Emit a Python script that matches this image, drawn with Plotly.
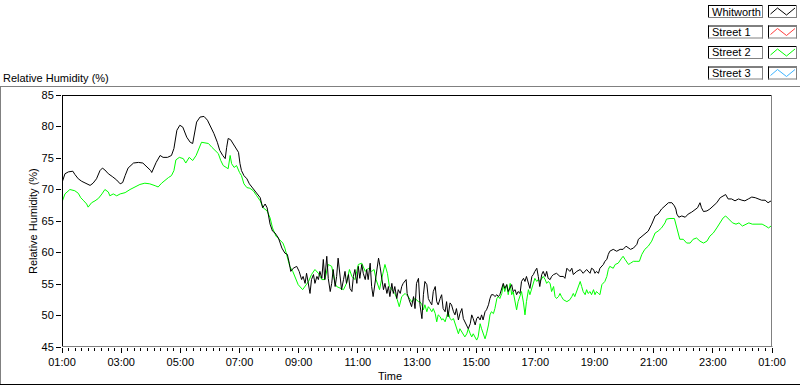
import pandas as pd
import plotly.graph_objects as go

# ---------------- data (minutes after 01:00, relative humidity %) ----------------
whitworth_min = [1, 6, 13, 22, 26, 33, 40, 47, 57, 63, 70, 77, 82, 87, 94, 103, 111, 118, 123, 128,
                 134, 145, 155, 164, 170, 176, 180, 182, 185, 191, 199, 205, 214, 222, 227, 233, 239, 245,
                 253, 260, 265, 270, 273, 280, 288, 295, 302, 308, 315, 320, 326, 331, 334, 337, 342, 347,
                 353, 358, 361, 364, 369, 375, 380, 385, 391, 396, 402, 407, 412, 416, 422, 427, 432, 439,
                 446, 452, 457, 461, 464, 469, 476, 481, 486, 489, 493, 496, 500, 503, 506, 510, 513, 517,
                 520, 523, 527, 530, 533, 537, 540, 544, 547, 550, 554, 557, 560, 564, 567, 571, 574, 577,
                 581, 584, 588, 591, 594, 598, 601, 604, 608, 611, 615, 618, 621, 625, 628, 631, 635, 638,
                 642, 645, 648, 652, 655, 659, 662, 665, 669, 672, 675, 679, 682, 686, 689, 692, 698, 700,
                 704, 709, 713, 716, 719, 723, 726, 730, 733, 736, 740, 743, 746, 750, 753, 757, 760, 763,
                 767, 770, 773, 777, 780, 783, 787, 790, 794, 797, 800, 804, 807, 811, 814, 817, 821, 824,
                 828, 831, 834, 838, 841, 844, 848, 851, 854, 858, 861, 865, 868, 871, 875, 878, 882, 885,
                 888, 892, 895, 898, 902, 905, 909, 912, 915, 919, 922, 925, 929, 932, 936, 939, 942, 946,
                 949, 953, 956, 959, 963, 966, 969, 973, 976, 980, 983, 986, 990, 993, 997, 1003, 1010, 1017,
                 1020, 1024, 1027, 1030, 1034, 1037, 1044, 1051, 1057, 1064, 1071, 1074, 1078, 1081, 1084,
                 1088, 1091, 1095, 1098, 1101, 1105, 1108, 1111, 1118, 1125, 1132, 1138, 1144, 1149, 1153,
                 1159, 1166, 1169, 1176, 1182, 1189, 1196, 1203, 1209, 1216, 1223, 1230, 1237, 1242, 1245,
                 1247, 1251, 1257, 1264, 1270, 1277, 1284, 1289, 1294, 1297, 1301, 1308, 1314, 1321, 1328,
                 1335, 1341, 1346, 1351, 1358, 1365, 1372, 1379, 1385, 1392, 1399, 1406, 1413, 1419, 1426,
                 1432, 1436, 1439]
whitworth_rh = [71.3, 72.5, 72.8, 72.9, 72.4, 71.7, 71.3, 71.0, 70.65, 71.0, 71.7, 73.0, 73.4, 73.1, 72.5, 72.0, 71.5, 70.9, 71.1, 72.2,
                73.4, 74.2, 74.3, 74.2, 73.8, 73.4, 73.0, 72.7, 73.3, 74.3, 75.4, 75.1, 75.1, 75.4, 76.5, 79.4, 80.2, 79.9,
                78.3, 77.5, 77.3, 79.4, 80.7, 81.5, 81.6, 81.0, 79.9, 78.9, 77.5, 76.2, 75.4, 74.9, 76.7, 78.1, 77.9, 77.3,
                76.5, 75.9, 74.1, 73.0, 72.2, 71.7, 70.9, 70.4, 69.8, 69.4, 68.7, 67.1, 67.7, 67.1, 64.5, 63.4, 63.1, 62.3,
                60.7, 59.9, 59.7, 58.3, 57.0, 57.5, 57.8, 57.0, 55.7, 56.2, 55.1, 56.7, 54.6, 53.5, 55.7, 56.5, 55.1, 56.2,
                55.7, 57.0, 55.9, 58.9, 55.7, 59.4, 55.9, 53.8, 55.1, 57.3, 54.6, 56.2, 59.1, 56.7, 54.1, 55.7, 57.0, 55.1,
                56.5, 54.3, 53.8, 56.2, 57.3, 55.1, 57.8, 55.9, 58.1, 56.7, 55.7, 57.3, 55.7, 58.3, 54.6, 53.0, 55.1, 56.7,
                59.1, 57.8, 55.9, 54.1, 55.1, 53.5, 54.6, 53.0, 55.1, 53.5, 54.6, 52.7, 54.1, 53.5, 54.6, 55.1, 55.7, 53.5,
                52.5, 51.4, 53.0, 51.1, 55.1, 55.9, 51.7, 49.5, 53.3, 55.4, 54.9, 52.7, 52.2, 51.7, 53.8, 54.6, 52.2, 51.7,
                52.7, 53.3, 51.1, 50.6, 52.2, 49.8, 52.0, 51.7, 50.6, 50.1, 51.1, 49.3, 50.3, 51.1, 49.5, 49.0, 48.5, 47.9,
                48.7, 50.1, 49.5, 48.5, 49.5, 49.8, 49.3, 50.1, 49.3, 50.6, 50.9, 51.7, 52.7, 53.3, 53.3, 53.0, 53.3, 53.0,
                53.3, 54.6, 55.1, 54.3, 54.9, 53.8, 54.6, 54.9, 53.8, 54.1, 53.3, 53.8, 53.5, 55.4, 55.9, 55.4, 56.2, 55.1,
                54.3, 56.2, 56.5, 57.0, 57.5, 56.2, 54.6, 56.5, 57.0, 56.2, 57.0, 55.9, 55.7, 56.2, 56.5, 56.7, 56.2, 56.2,
                55.9, 57.5, 57.3, 57.0, 57.5, 56.5, 57.0, 57.3, 56.7, 57.3, 56.7, 57.5, 57.3, 56.7, 57.0,
                56.7, 57.5, 57.8, 58.1, 58.6, 58.9, 59.7, 60.2, 60.5, 60.2, 60.5, 60.5, 61.0, 60.7, 60.5,
                60.7, 61.3, 62.1, 62.6, 62.9, 63.4, 64.5, 65.8, 66.1, 66.9, 67.4, 67.9, 67.9, 67.4, 66.9,
                66.1, 65.6, 65.8, 65.6, 66.1, 66.4, 66.9, 67.1, 67.9, 67.1, 66.5, 66.6, 66.9, 67.4, 67.9,
                68.7, 69.0, 69.2, 68.5, 68.5, 68.2, 68.5, 68.3, 68.2, 68.5, 68.8, 68.7, 68.5, 68.3, 68.3,
                67.9, 68.1, 68.2]

street2_min = [1, 6, 16, 26, 33, 38, 43, 50, 53, 60, 67, 74, 81, 87, 94, 97, 104, 111, 118, 128,
               138, 148, 158, 168, 178, 189, 195, 202, 209, 216, 222, 227, 231, 238, 246, 251, 258, 265,
               272, 278, 283, 290, 297, 304, 310, 317, 322, 327, 333, 337, 341, 344, 349, 354, 360, 364,
               369, 375, 381, 388, 395, 402, 408, 416, 422, 427, 434, 441, 448, 452, 457, 462, 468, 473,
               479, 488, 493, 500, 506, 513, 520, 527, 533, 540, 547, 550, 554, 557, 564, 571, 577, 583,
               588, 594, 601, 608, 615, 621, 628, 633, 637, 644, 648, 655, 660, 664, 669, 675, 680, 684,
               689, 696, 702, 709, 716, 723, 726, 730, 733, 736, 740, 743, 746, 750, 753, 757, 760, 763,
               767, 770, 773, 777, 780, 783, 787, 790, 794, 797, 800, 804, 807, 811, 814, 817, 821, 824,
               828, 831, 834, 838, 841, 844, 848, 851, 854, 858, 861, 865, 868, 871, 875, 878, 882, 885,
               888, 892, 895, 898, 902, 905, 909, 912, 915, 919, 922, 925, 929, 932, 936, 939, 942, 946,
               949, 953, 956, 959, 963, 966, 969, 973, 976, 980, 983, 986, 990, 993, 997, 1000, 1003, 1007,
               1010, 1013, 1017, 1024, 1030, 1034, 1037, 1040, 1044, 1047, 1051, 1054, 1057, 1061, 1064,
               1067, 1071, 1074, 1078, 1081, 1084, 1088, 1091, 1095, 1098, 1101, 1105, 1108, 1111, 1118,
               1122, 1128, 1135, 1138, 1142, 1145, 1149, 1153, 1159, 1166, 1171, 1176, 1182, 1189, 1196,
               1203, 1209, 1216, 1223, 1226, 1233, 1242, 1245, 1249, 1253, 1260, 1267, 1274, 1280, 1287,
               1294, 1301, 1308, 1314, 1321, 1328, 1335, 1341, 1346, 1353, 1360, 1367, 1373, 1380, 1387,
               1393, 1400, 1407, 1414, 1420, 1427, 1433, 1438]
street2_rh = [68.2, 69.3, 70.0, 69.8, 69.4, 68.7, 68.3, 67.7, 67.2, 67.9, 68.2, 68.6, 69.3, 70.0, 69.6, 69.0, 69.3, 69.0, 69.3, 69.5,
              70.0, 70.4, 70.8, 71.0, 70.9, 70.6, 70.4, 71.0, 71.5, 71.9, 72.2, 73.0, 74.7, 75.1, 74.9, 74.2, 75.1, 74.6,
              75.4, 76.7, 77.5, 77.4, 77.3, 76.7, 76.3, 75.7, 74.6, 73.8, 73.5, 73.3, 75.4, 74.1, 73.5, 73.8, 72.7, 72.2,
              70.9, 70.3, 70.2, 69.8, 69.0, 68.2, 67.1, 66.6, 65.5, 63.9, 62.6, 62.1, 61.5, 60.7, 59.1, 57.8, 57.0, 55.9,
              54.9, 54.1, 54.6, 55.4, 56.5, 57.3, 56.7, 55.7, 55.7, 58.1, 57.8, 56.7, 55.1, 54.6, 54.3, 54.1, 55.1, 57.3,
              56.2, 55.7, 58.1, 58.3, 57.0, 57.5, 57.0, 57.3, 55.7, 54.1, 55.7, 58.1, 56.7, 54.6, 54.1, 53.5, 52.5, 51.4,
              53.0, 53.5, 53.0, 52.2, 52.7, 52.2, 52.2, 51.7, 50.9, 51.7, 50.6, 51.4, 51.1, 50.6, 51.1, 50.3, 49.0, 50.1,
              49.8, 49.3, 49.5, 49.0, 49.8, 50.6, 49.5, 49.3, 49.5, 48.7, 47.9, 47.1, 47.9, 47.4, 47.1, 46.6, 47.1, 47.9,
              47.1, 46.6, 47.1, 46.6, 46.1, 46.6, 48.7, 47.9, 47.1, 46.3, 47.1, 48.5, 50.1, 50.6, 50.3, 51.1, 52.7, 53.0,
              52.7, 53.5, 54.9, 53.8, 54.9, 53.3, 55.1, 53.3, 53.8, 52.2, 50.9, 52.2, 53.3, 53.8, 52.0, 50.1, 52.2, 54.1,
              53.3, 54.3, 55.4, 55.9, 55.4, 55.7, 55.4, 55.9, 56.2, 55.7, 55.1, 55.4, 55.1, 53.8, 54.6, 53.0, 52.7, 53.0,
              53.5, 53.0, 52.5, 52.2, 52.5, 53.0, 53.5, 53.0, 53.8, 54.6, 55.4, 54.6, 53.8, 53.3, 54.1,
              53.5, 53.8, 53.3, 54.1, 53.3, 53.8, 53.5, 53.3, 54.9, 55.1, 55.4, 56.2, 57.3, 57.8, 57.5,
              58.1, 58.3, 59.1, 59.4, 58.9, 58.6, 58.1, 58.3, 58.6, 58.6, 58.6, 59.7, 60.5, 61.0, 61.8,
              63.1, 63.4, 63.9, 64.7, 65.3, 65.4, 65.4, 64.5, 62.9, 62.1, 62.1, 61.5, 61.5, 62.1, 62.3,
              61.8, 61.5, 61.8, 62.6, 63.1, 63.9, 64.7, 65.5, 65.8, 65.3, 64.7, 64.5, 64.7, 64.2, 64.5,
              64.7, 64.5, 64.5, 64.5, 64.5, 64.2, 63.9, 64.2]

legend_names = ["Whitworth", "Street 1", "Street 2", "Street 3"]
legend_colors = ["#000000", "#ff3c3c", "#00ff00", "#3cb4ff"]
y_ticks = [45, 50, 55, 60, 65, 70, 75, 80, 85]
y_range = [45, 85]
start_time = "2000-01-01 01:00"
span_hours = 24

# ---------------- figure ----------------
t0 = pd.Timestamp(start_time)
x_w = [t0 + pd.Timedelta(minutes=m) for m in whitworth_min]
x_s2 = [t0 + pd.Timedelta(minutes=m) for m in street2_min]
x_end = t0 + pd.Timedelta(hours=span_hours)

FONT = "Liberation Sans, Arial, sans-serif"
W, H = 800, 386
L, R, T, B = 62, 772, 95, 347   # plot area in pixels


def px(X):
    return (X - L) / (R - L)


def py(Y):
    return (B - Y) / (B - T)


fig = go.Figure()
fig.add_trace(go.Scatter(x=x_s2, y=street2_rh, mode="lines", name=legend_names[2],
                         line=dict(color=legend_colors[2], width=1), showlegend=False))
fig.add_trace(go.Scatter(x=x_w, y=whitworth_rh, mode="lines", name=legend_names[0],
                         line=dict(color=legend_colors[0], width=1), showlegend=False))

shapes = []
annotations = []

def hline(y, x0, x1, color):
    shapes.append(dict(type="line", xref="paper", yref="paper", x0=px(x0), x1=px(x1),
                       y0=py(y), y1=py(y), line=dict(color=color, width=1), layer="above"))


def vline(x, y0, y1, color):
    shapes.append(dict(type="line", xref="paper", yref="paper", x0=px(x), x1=px(x),
                       y0=py(y0), y1=py(y1), line=dict(color=color, width=1), layer="above"))

# plot frame: top/left black, bottom/right gray
hline(T + 0.5, L, R, "#000000")
vline(L + 0.5, T, B, "#000000")
hline(B - 0.5, L, R + 0.5, "#808080")
vline(R - 0.5, T, B, "#808080")

# outer frame
hline(86.5, 0, W, "#808080")
vline(0.5, 86.5, 384, "#808080")
hline(384.5, 0, W, "#000000")

# legend boxes
row_tops = [5, 25.5, 46, 66.5]
box_h = 13
for name, color, top in zip(legend_names, legend_colors, row_tops):
    for bx0, bx1 in [(708, 763), (768, 797)]:
        hline(top + 0.5, bx0, bx1, "#000000")
        vline(bx0 + 0.5, top, top + box_h, "#000000")
        hline(top + box_h - 0.5, bx0, bx1, "#808080")
        vline(bx1 - 0.5, top, top + box_h, "#808080")
    pts = [(770.5, top + 9), (777.5, top + 3), (786.5, top + 10), (795, top + 3)]
    path = "M " + " L ".join(f"{px(a)},{py(b)}" for a, b in pts)
    shapes.append(dict(type="path", xref="paper", yref="paper", path=path,
                       line=dict(color=color, width=1), layer="above"))
    annotations.append(dict(text=name, xref="paper", yref="paper", x=px(710), y=py(top + box_h / 2),
                            xanchor="left", yanchor="middle", showarrow=False,
                            font=dict(family=FONT, size=11, color="black")))

annotations.append(dict(text="Relative Humidity (%)", xref="paper", yref="paper", x=px(1), y=py(78),
                        xanchor="left", yanchor="middle", showarrow=False,
                        font=dict(family=FONT, size=11, color="black")))
annotations.append(dict(text="Relative Humidity (%)", xref="paper", yref="paper", x=px(33), y=py(221),
                        xanchor="center", yanchor="middle", showarrow=False, textangle=-90,
                        font=dict(family=FONT, size=11, color="black")))
annotations.append(dict(text="Time", xref="paper", yref="paper", x=px(390), y=py(376),
                        xanchor="center", yanchor="middle", showarrow=False,
                        font=dict(family=FONT, size=11, color="black")))

fig.update_layout(
    width=W, height=H,
    margin=dict(l=L, r=W - R, t=T, b=H - B),
    paper_bgcolor="white", plot_bgcolor="white",
    font=dict(family=FONT, size=11, color="black"),
    shapes=shapes, annotations=annotations,
    showlegend=False,
    xaxis=dict(type="date", range=[t0, x_end], tick0=t0, dtick=2 * 3600 * 1000,
               tickformat="%H:%M", ticks="outside", ticklen=5, tickcolor="black",
               showgrid=False, zeroline=False, showline=False,
               tickfont=dict(family=FONT, size=11, color="black"),
               minor=dict(dtick=800000, tick0=t0, ticks="outside", ticklen=3, tickcolor="black",
                          showgrid=False)),
    yaxis=dict(range=y_range, tickvals=y_ticks, ticks="outside", ticklen=5, tickcolor="black",
               showgrid=False, zeroline=False, showline=False,
               tickfont=dict(family=FONT, size=11, color="black")),
)

fig.write_html("out.html", config={"displayModeBar": False},
               post_script="document.body.style.margin='0';document.body.style.padding='0';")
